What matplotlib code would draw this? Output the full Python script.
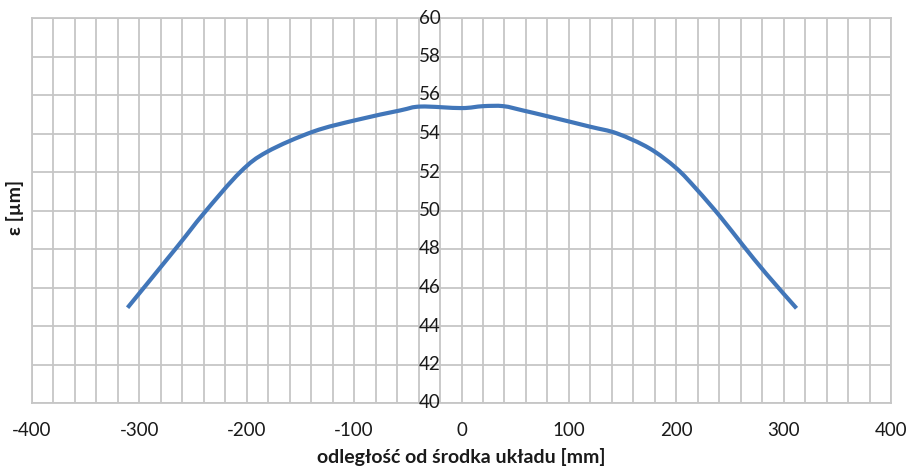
import matplotlib
matplotlib.use("Agg")
import matplotlib.pyplot as plt
from matplotlib.path import Path
from matplotlib.patches import PathPatch
import numpy as np

# data
dist_mm = [-311, -265, -240, -206, -181, -138, -98, -57, -38, 0, 20, 39, 57,
           82, 120, 145, 175, 200, 219, 241, 262, 284, 312]
eps_um = [44.95, 48.1, 49.85, 52.0, 53.05, 54.1, 54.7, 55.2, 55.4, 55.32, 55.42,
          55.42, 55.2, 54.87, 54.35, 54.0, 53.23, 52.2, 51.1, 49.68, 48.2, 46.7, 44.92]
x_ticks = [-400, -300, -200, -100, 0, 100, 200, 300, 400]
y_ticks = [40, 42, 44, 46, 48, 50, 52, 54, 56, 58, 60]

plt.rcParams['font.family'] = ['Lato', 'DejaVu Sans']

fig = plt.figure(figsize=(9.09, 4.75), dpi=100)
ax = fig.add_axes([32/909, 1-403/475, (891-32)/909, (403-18)/475])

grid_c = '#c6c6c6'
ax.set_xlim(-400, 400)
ax.set_ylim(40, 60)
ax.set_xticks(np.arange(-400, 401, 20))
ax.set_yticks(y_ticks)
ax.grid(True, color=grid_c, linewidth=1.3)
ax.set_axisbelow(True)
for s in ax.spines.values():
    s.set_color(grid_c)
    s.set_linewidth(1.3)

ax.set_xticklabels([str(v) if v in x_ticks else '' for v in np.arange(-400, 401, 20)])
ax.tick_params(axis='x', length=0, pad=14, labelsize=13.5, labelcolor='#1a1a1a')
ax.tick_params(axis='y', length=0, labelleft=False)

for v in y_ticks:
    ax.annotate(str(v), (0, v), xytext=(-15, 0), textcoords='offset points',
                ha='right', va='center', fontsize=13.5, color='#1a1a1a',
                annotation_clip=False)

# smoothed line (Catmull-Rom style Bezier through the data points, like Excel)
px = np.array(dist_mm, dtype=float)
py = np.array(eps_um, dtype=float)
verts = [(px[0], py[0])]
codes = [Path.MOVETO]
n = len(px)
t = 1/6
for i in range(n - 1):
    p0 = (px[max(i-1, 0)], py[max(i-1, 0)])
    p1 = (px[i], py[i])
    p2 = (px[i+1], py[i+1])
    p3 = (px[min(i+2, n-1)], py[min(i+2, n-1)])
    c1 = (p1[0] + (p2[0]-p0[0])*t, p1[1] + (p2[1]-p0[1])*t)
    c2 = (p2[0] - (p3[0]-p1[0])*t, p2[1] - (p3[1]-p1[1])*t)
    verts += [c1, c2, p2]
    codes += [Path.CURVE4]*3
ax.add_patch(PathPatch(Path(verts, codes), facecolor='none', edgecolor='#4176b9',
                       linewidth=3.0, capstyle='butt', joinstyle='round'))

ax.set_xlabel('odległość od środka układu [mm]', fontsize=14, fontweight='bold',
              labelpad=6, color='#1a1a1a')
fig.text(15/909, 1-207/475, 'ε [µm]', rotation=90, ha='center', va='center',
         fontsize=14, fontweight='bold', color='#1a1a1a')

fig.savefig('out.png', dpi=100)
